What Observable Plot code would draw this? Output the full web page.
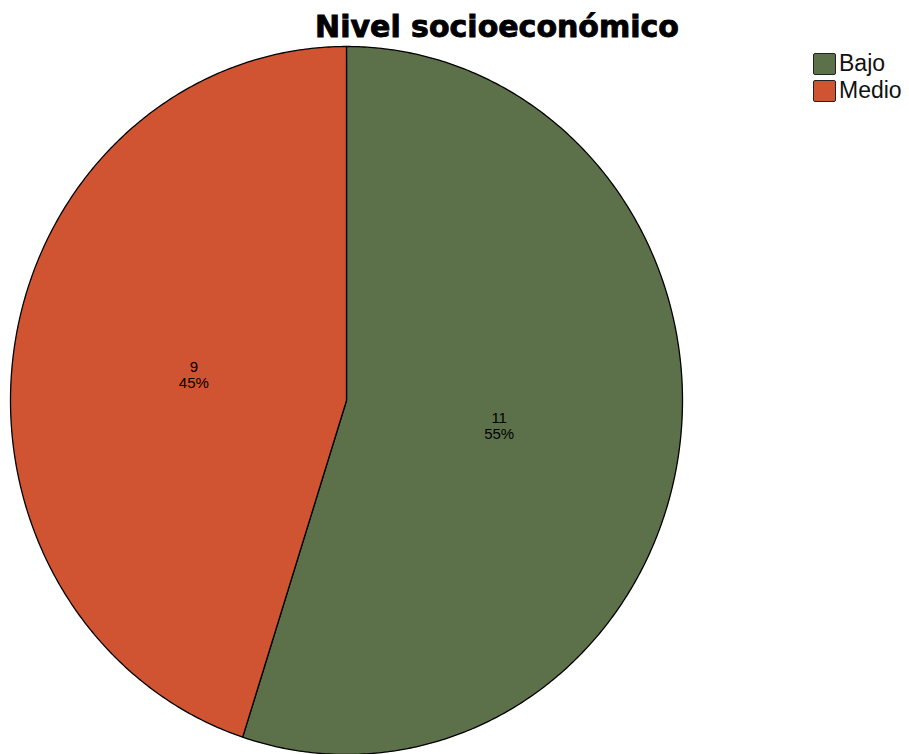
<!DOCTYPE html>
<html>
<head>
<meta charset="utf-8">
<script src="https://cdn.jsdelivr.net/npm/d3@7"></script>
<script src="https://cdn.jsdelivr.net/npm/@observablehq/plot@0.6"></script>
<style>
  body { margin: 0; background: #fff; }
  #chart { position: relative; width: 909px; height: 754px; overflow: hidden; }
  #title { height: 46px; position: relative; }
  #title span {
    position: absolute; left: 0; top: 12px; width: 994px; text-align: center;
    font: bold 30px "DejaVu Sans", sans-serif; line-height: 30px; color: #000;
    -webkit-text-stroke: 0.9px #000;
  }
  #legend { position: absolute; left: 813px; top: 50px; font: 23px "Liberation Sans", Arial, sans-serif; color: #111; }
  #legend .item { display: flex; align-items: center; height: 27px; }
  #legend .sw { width: 21px; height: 20px; border: 1px solid #222; border-radius: 2px; margin-right: 3px; box-sizing: content-box; }
  #plot svg { display: block; }
</style>
</head>
<body>
<div id="chart">
  <div id="title"><span>Nivel socioeconómico</span></div>
  <div id="plot"></div>
  <div id="legend"></div>
</div>
<script>
// Nivel socioeconómico: frequency counts per category
const categories = ["Bajo", "Medio"];
const counts = [11, 9];
const colors = ["#5c714a", "#d05432"];

const total = d3.sum(counts);

// Pie angles start at 12 o'clock and run clockwise
const arcs = d3.pie().sort(null).value(d => d)(counts);

// Each slice as a closed polygon in unit-circle data space (y up)
const slicePoints = arcs.flatMap((a, i) => {
  const cat = categories[i];
  const steps = Math.max(2, Math.ceil((a.endAngle - a.startAngle) / (Math.PI / 360)));
  const pts = [{cat, x: 0, y: 0}];
  for (let k = 0; k <= steps; ++k) {
    const t = a.startAngle + (a.endAngle - a.startAngle) * k / steps;
    pts.push({cat, x: Math.sin(t), y: Math.cos(t)});
  }
  pts.push({cat, x: 0, y: 0});
  return pts;
});

// Count and percentage labels inside each slice
const labelRadius = 0.46;
const labels = arcs.map((a, i) => {
  const mid = (a.startAngle + a.endAngle) / 2;
  return {
    x: labelRadius * Math.sin(mid),
    y: labelRadius * Math.cos(mid),
    text: `${counts[i]}\n${Math.round(counts[i] / total * 100)}%`
  };
});

const chart = Plot.plot({
  width: 909,
  height: 708,
  marginTop: 0,
  marginBottom: 0,
  marginLeft: 10,
  marginRight: 227,
  x: {domain: [-1, 1], axis: null},
  y: {domain: [-1, 1], axis: null},
  color: {domain: categories, range: colors},
  style: {fontFamily: "'Liberation Sans', Arial, sans-serif", background: "#fff", overflow: "visible"},
  marks: [
    Plot.line(slicePoints, {
      x: "x", y: "y", z: "cat", fill: "cat",
      stroke: "#000", strokeWidth: 1.3, strokeLinejoin: "round"
    }),
    Plot.text(labels, {
      x: "x", y: "y", text: "text",
      fontSize: 15, lineHeight: 1.02, fill: "#000"
    })
  ]
});
document.getElementById("plot").append(chart);

// Legend built from the same categories and colours
const legend = d3.select("#legend");
categories.forEach((c, i) => {
  const item = legend.append("div").attr("class", "item");
  item.append("div").attr("class", "sw").style("background", colors[i]);
  item.append("span").text(c);
});
</script>
</body>
</html>
